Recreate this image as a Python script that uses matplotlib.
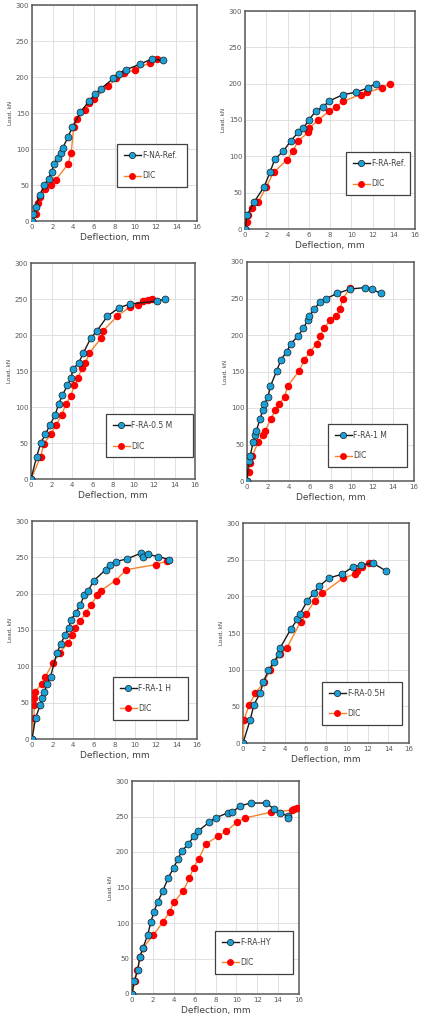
import matplotlib
matplotlib.use("Agg")
import matplotlib.pyplot as plt

W, H = 422, 1024

# ---- data (deflection mm, load kN) ----
na_ref_x = [0, 0.1, 0.35, 0.75, 1.2, 1.6, 1.9, 2.1, 2.5, 2.8, 3.0, 3.5, 3.9, 4.7, 5.5, 6.1, 6.7, 7.9, 8.45, 9.1, 10.5, 11.6, 12.7]
na_ref_y = [0, 10, 19, 36, 50, 59, 68, 79, 88, 95, 102, 117, 130, 151, 166, 176, 184, 198, 204, 210, 218, 225, 223]
na_dic_x = [0, 0.4, 0.6, 0.8, 1.3, 1.8, 2.3, 3.5, 3.8, 4.05, 4.4, 5.1, 5.55, 6.0, 7.4, 8.15, 8.9, 10.0, 11.45, 12.1]
na_dic_y = [0, 10, 25, 33, 45, 50, 57, 79, 95, 131, 141, 154, 164, 170, 187, 198, 205, 210, 220, 225]

ra_ref_x = [0, 0.2, 0.85, 1.8, 2.35, 2.8, 3.6, 4.3, 5.0, 5.5, 6.0, 6.65, 7.35, 7.9, 9.25, 10.4, 11.55, 12.3]
ra_ref_y = [0, 19, 37, 58, 78, 96, 107, 121, 133, 139, 150, 162, 168, 176, 185, 188, 194, 200]
ra_dic_x = [0, 0.15, 0.25, 0.7, 1.25, 2.0, 2.7, 3.95, 4.5, 5.0, 5.95, 6.05, 6.9, 7.9, 8.6, 9.25, 10.9, 11.5, 12.85, 13.6]
ra_dic_y = [0, 10, 19, 29, 37, 58, 78, 95, 107, 121, 133, 139, 150, 162, 168, 176, 185, 188, 194, 200]

ra05m_x = [0, 0.55, 0.95, 1.4, 1.85, 2.35, 2.7, 3.05, 3.55, 3.9, 4.1, 4.65, 5.1, 5.85, 6.4, 7.45, 8.6, 9.65, 12.25, 13.1]
ra05m_y = [0, 31, 50, 62, 75, 89, 104, 116, 130, 140, 153, 161, 175, 196, 205, 226, 238, 243, 247, 250]
ra05m_dic_x = [0, 0.95, 1.25, 1.95, 2.45, 3.0, 3.4, 3.9, 4.2, 4.6, 4.95, 5.3, 5.7, 6.85, 7.05, 8.4, 9.65, 10.45, 10.95, 11.45, 11.85]
ra05m_dic_y = [0, 31, 49, 62, 75, 89, 104, 115, 130, 140, 154, 161, 175, 196, 206, 226, 239, 242, 247, 248, 250]

ra1m_x = [0, 0.15, 0.3, 0.6, 0.75, 0.9, 1.25, 1.5, 1.65, 2.0, 2.25, 2.85, 3.25, 3.8, 4.2, 4.85, 5.4, 5.8, 5.95, 6.45, 6.95, 7.6, 8.65, 9.9, 11.35, 11.95, 12.8]
ra1m_y = [0, 27, 34, 54, 63, 69, 85, 97, 105, 115, 130, 151, 166, 177, 188, 198, 209, 220, 226, 235, 245, 250, 257, 263, 265, 263, 257]
ra1m_dic_x = [0, 0.15, 0.3, 0.5, 1.1, 1.55, 1.7, 2.3, 2.7, 3.05, 3.6, 3.9, 5.0, 5.5, 6.0, 6.7, 7.0, 7.35, 7.95, 8.55, 8.9, 9.2, 9.9]
ra1m_dic_y = [0, 13, 25, 34, 54, 63, 68, 85, 97, 105, 115, 130, 151, 166, 177, 188, 198, 209, 220, 226, 235, 250, 265]

ra1h_x = [0, 0.35, 0.8, 1.0, 1.2, 1.45, 1.8, 2.4, 2.8, 3.2, 3.55, 3.8, 4.25, 4.7, 5.05, 5.4, 6.0, 7.15, 7.55, 8.1, 9.25, 10.6, 10.8, 11.25, 12.25, 13.3]
ra1h_y = [0, 29, 47, 56, 64, 76, 86, 118, 131, 143, 153, 164, 174, 185, 198, 203, 218, 233, 240, 244, 248, 256, 251, 254, 251, 247]
ra1h_dic_x = [0, 0.2, 0.2, 0.2, 0.3, 0.95, 1.3, 2.05, 2.7, 3.5, 3.85, 4.15, 4.7, 5.2, 5.7, 6.35, 6.65, 8.1, 9.15, 12.0, 13.1]
ra1h_dic_y = [0, 29, 47, 57, 65, 76, 86, 105, 119, 132, 143, 153, 163, 173, 185, 198, 204, 218, 233, 240, 245]

ra05h_x = [0, 0.7, 1.05, 1.65, 1.95, 2.45, 3.0, 3.45, 3.55, 4.6, 5.25, 5.5, 6.2, 6.8, 7.35, 8.3, 9.5, 10.6, 11.4, 12.55, 13.75]
ra05h_y = [0, 32, 52, 68, 83, 99, 111, 121, 129, 155, 169, 176, 194, 204, 214, 225, 230, 240, 243, 245, 235]
ra05h_dic_x = [0, 0.1, 0.6, 1.2, 2.0, 2.65, 3.55, 4.2, 5.55, 6.1, 6.9, 7.65, 9.65, 10.75, 10.95, 11.5, 12.1]
ra05h_dic_y = [0, 32, 52, 68, 83, 100, 121, 129, 165, 176, 194, 204, 225, 230, 235, 240, 245]

rahy_x = [0, 0.2, 0.55, 0.75, 1.05, 1.5, 1.8, 2.1, 2.45, 2.95, 3.45, 4.0, 4.4, 4.8, 5.4, 5.9, 6.3, 7.4, 8.0, 9.15, 9.6, 10.35, 11.4, 12.8, 13.6, 14.2, 14.9, 14.9]
rahy_y = [0, 18, 34, 52, 65, 83, 101, 116, 129, 145, 163, 178, 190, 202, 211, 222, 229, 242, 248, 255, 256, 265, 269, 269, 261, 255, 251, 248]
rahy_dic_x = [0, 0.3, 0.5, 0.8, 1.05, 2.05, 2.95, 3.6, 4.0, 4.9, 5.5, 5.9, 6.4, 7.05, 8.2, 9.0, 10.05, 10.85, 13.3, 15.3, 15.55, 15.8]
rahy_dic_y = [0, 18, 34, 52, 65, 83, 101, 116, 129, 145, 163, 178, 190, 211, 222, 229, 242, 248, 256, 259, 261, 262]

panels = [
    # label, test x, test y, dic x, dic y, axes box px (left, top, right, bottom), legend box (x0, y0, x1, y1) axes frac
    ("F-NA-Ref.", na_ref_x, na_ref_y, na_dic_x, na_dic_y, (32, 5, 197, 221), (0.515, 0.157, 0.94, 0.343)),
    ("F-RA-Ref.", ra_ref_x, ra_ref_y, ra_dic_x, ra_dic_y, (245, 11, 415, 229), (0.594, 0.155, 0.97, 0.343)),
    ("F-RA-0.5 M", ra05m_x, ra05m_y, ra05m_dic_x, ra05m_dic_y, (31, 263, 195, 479), (0.457, 0.10, 0.988, 0.304)),
    ("F-RA-1 M", ra1m_x, ra1m_y, ra1m_dic_x, ra1m_dic_y, (247, 262, 414, 481), (0.485, 0.063, 0.958, 0.268)),
    ("F-RA-1 H", ra1h_x, ra1h_y, ra1h_dic_x, ra1h_dic_y, (32, 521, 197, 739), (0.49, 0.087, 0.945, 0.289)),
    ("F-RA-0.5H", ra05h_x, ra05h_y, ra05h_dic_x, ra05h_dic_y, (243, 523, 409, 743), (0.476, 0.082, 0.958, 0.286)),
    ("F-RA-HY", rahy_x, rahy_y, rahy_dic_x, rahy_dic_y, (132, 781, 299, 994), (0.497, 0.094, 0.964, 0.296)),
]

fig = plt.figure(figsize=(W / 100, H / 100), dpi=100)
fig.patch.set_facecolor("white")

for label, tx, ty, dx, dy, (l, t, r, b), (lx0, ly0, lx1, ly1) in panels:
    ax = fig.add_axes([l / W, 1 - b / H, (r - l) / W, (b - t) / H])
    ax.plot(dx, dy, color="#f4852b", lw=1.0, marker="o", ms=4.4,
            mfc="#ff0000", mec="#ff0000", label="DIC", zorder=3)
    ax.plot(tx, ty, color="#1a1a1a", lw=1.0, marker="o", ms=5.0,
            mfc="#1aa0d8", mec="#1a1a1a", mew=0.5, label=label, zorder=4)
    ax.set_xlim(0, 16)
    ax.set_ylim(0, 300)
    ax.set_xticks(range(0, 17, 2))
    ax.set_yticks(range(0, 301, 50))
    ax.grid(True, color="#dcdcdc", lw=0.6)
    ax.set_axisbelow(True)
    ax.tick_params(length=0, labelsize=5, colors="#595959", pad=2)
    for s in ax.spines.values():
        s.set_color("#595959")
        s.set_linewidth(1.1)
    ax.set_xlabel("Deflection, mm", fontsize=6.5, color="#404040", labelpad=2)
    ax.set_ylabel("Load, kN", fontsize=4, color="#404040", labelpad=2)

    handles, labels = ax.get_legend_handles_labels()
    leg = ax.legend(handles[::-1], labels[::-1], loc="lower left",
                    bbox_to_anchor=(lx0, ly0, lx1 - lx0, ly1 - ly0),
                    mode="expand", borderaxespad=0, fontsize=5.5,
                    fancybox=False, framealpha=1, edgecolor="#404040",
                    handlelength=2.2, labelspacing=1.5, borderpad=0.9,
                    handletextpad=0.2, markerscale=0.9)
    leg.get_frame().set_linewidth(0.9)
    for txt in leg.get_texts():
        txt.set_color("#404040")

fig.savefig("out.png", dpi=100, facecolor="white")
